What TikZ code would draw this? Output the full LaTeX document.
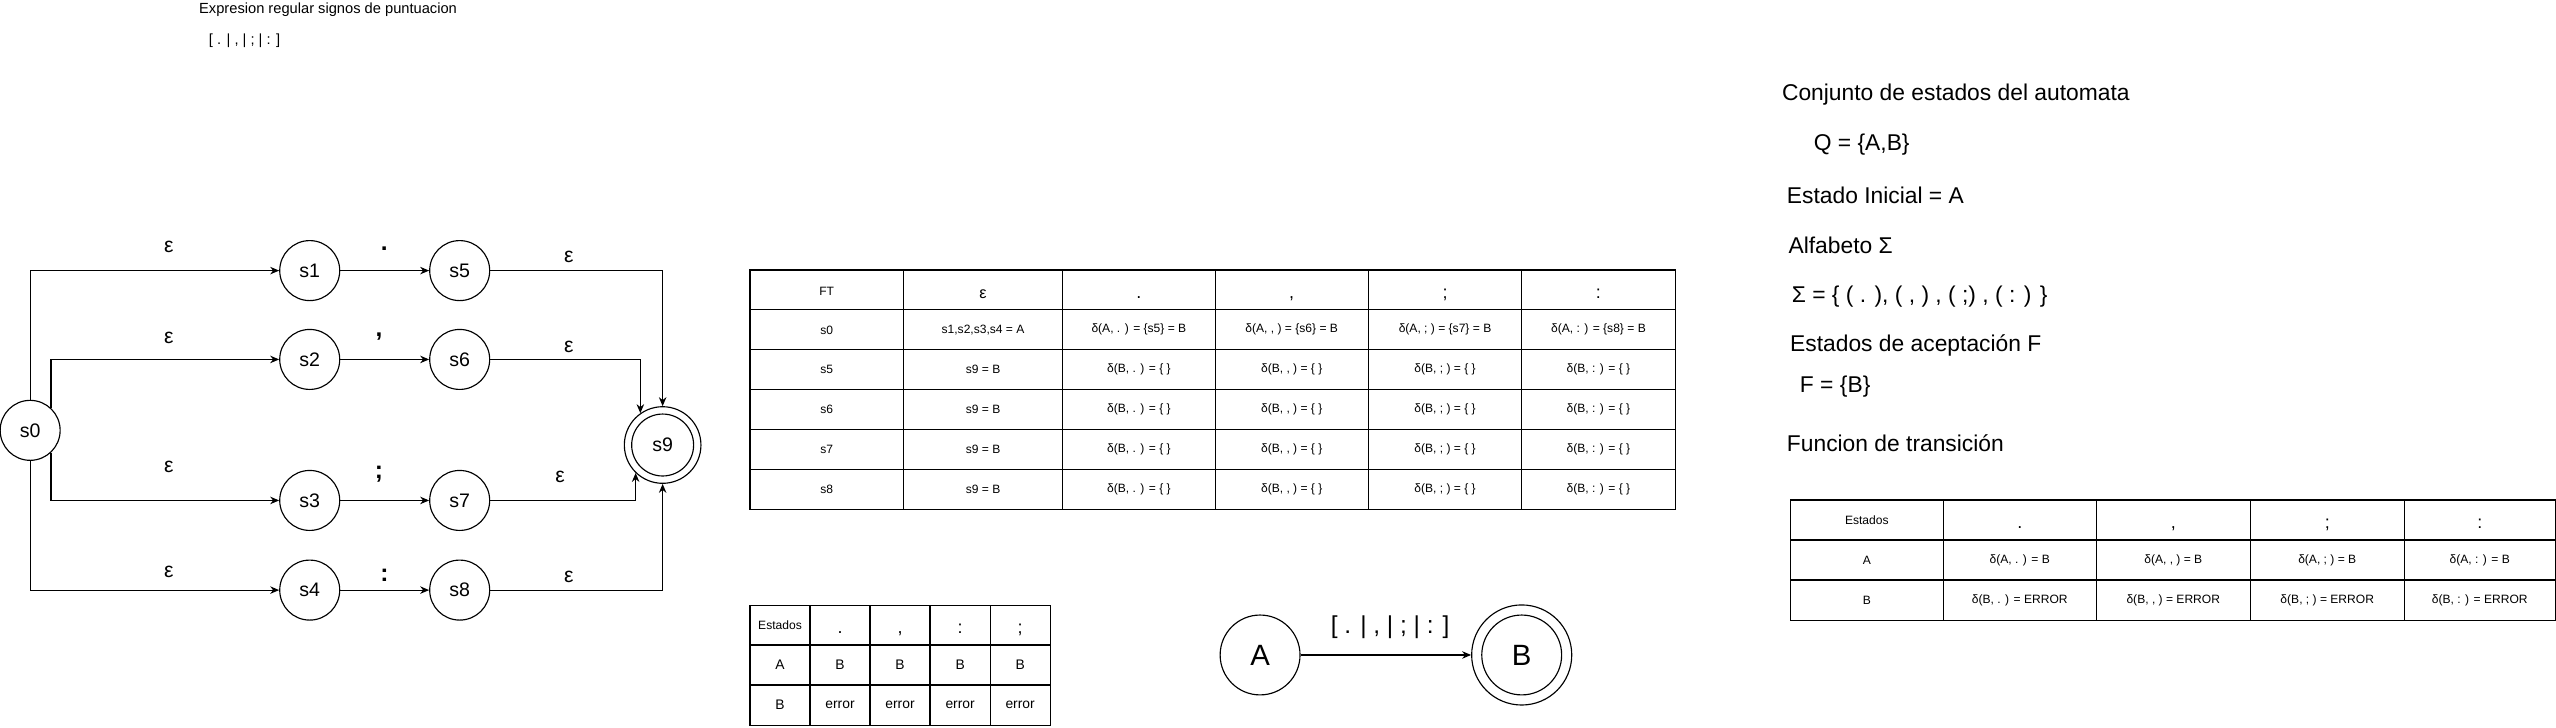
\documentclass[tikz,border=0pt]{standalone}
\usepackage{fontspec}
\setmainfont{Liberation Sans}
\usetikzlibrary{calc}
\usetikzlibrary{shapes.geometric, arrows.meta, positioning}

\tikzset{
  st/.style={circle, draw, line width=0.7pt, minimum size=36.8pt, inner sep=0pt, font=\fontsize{12}{14}\selectfont},
  trans/.style={line width=0.7pt, -{Stealth[length=5.5pt, width=4.6pt]}},
  eps/.style={inner sep=0pt, font=\fontsize{13}{15}\selectfont},
  sym/.style={inner sep=0pt, font=\fontsize{15}{17}\selectfont\bfseries},
  tbl/.style={line width=0.7pt, line cap=rect},
  cell/.style={inner sep=0pt, font=\fontsize{7.4}{9}\selectfont},
  bigcell/.style={inner sep=0pt, font=\fontsize{8.5}{10}\selectfont},
  head/.style={inner sep=0pt, anchor=base, font=\fontsize{11}{13}\selectfont},
  info/.style={anchor=west, inner sep=0pt, font=\fontsize{14}{16}\selectfont},
  note/.style={anchor=west, inner sep=0pt, font=\fontsize{9}{11}\selectfont}
}

\begin{document}
\begin{tikzpicture}[x=1pt, y=-1pt]
\useasboundingbox (0,0) rectangle (1568,446);

% Expresion regular
\node[note] (expr) at (122,6) {Expresion regular signos de puntuacion};
\node[note] (exprx) at (128,25) {[ . | , | ; | : ]};

% AFN, estados s0 ... s9
\node[st] (s0) at (18.5,264) {s0};
\foreach \a/\b/\y in {1/5/166, 2/6/220.5, 3/7/307, 4/8/362}
{
    \node[st] (s\a) at (190,\y) {s\a};
    \node[st] (s\b) at (282,\y) {s\b};
    \draw[trans] (s\a) -- (s\b);
}
\node[st, minimum size=47pt] (s9) at (406.5,273) {s9};
\draw[line width=0.7pt] (s9.center) circle[radius=19pt];

% transiciones epsilon
\draw[trans] (s0.north) |- (s1);
\draw[trans] (s0.47) |- (s2);
\draw[trans] (s0.-47) |- (s3);
\draw[trans] (s0.south) |- (s4);
\draw[trans] (s5) -| (s9);
\draw[trans] (s6) -| (s9.125);
\draw[trans] (s7) -| (s9.226);
\draw[trans] (s8) -| (s9);

% Labels
\foreach \y [count=\i] in {151.7,207,286.5,350.8}
    \node[eps] (ea\i) at (103.6,\y) {ε};
\foreach \x/\y [count=\i] in {349/157.8, 349/212.6, 343.6/292.6, 349/354}
    \node[eps] (eb\i) at (\x,\y) {ε};
\node[sym] (c1) at (235.8,152.7) {.};
\node[sym] (c2) at (232.5,206.3) {,};
\node[sym] (c3) at (232.5,291) {;};
\node[sym] (c4) at (235.8,353) {:};

% Tabla de transicion del AFN
\foreach \x in {460.1,554.2,651.9,745.4,839.4,933.5,1027.6}
    \draw[tbl] (\x,165.6) -- (\x,312.6);
\foreach \y in {165.6,190.1,214.6,239.1,263.6,288.1,312.6}
    \draw[tbl] (460.1,\y) -- (1027.6,\y);

\node[cell] (ft) at (507.15,178.6) {FT};
\node[head, font=\fontsize{10}{12}\selectfont] (fte) at (603.05,183.4) {ε};
\foreach \x/\p [count=\i] in {698.65/{.}, 792.4/{,}, 886.45/{;}, 980.55/{:}}
    \node[head] (fth\i) at (\x,183.4) {\p};

\node[cell] (fs0) at (507.15,202.35) {s0};
\node[cell] (fs0-e) at (603.05,202.35) {s1,s2,s3,s4 = A};
\foreach \x/\p/\s [count=\i] in {698.65/{.}/5, 792.4/{,}/6, 886.45/{;}/7, 980.55/{:}/8}
    \node[cell] (fs0-\i) at (\x,202.35) {δ(A, \p{} ) = \{s\s\} = B};

\foreach \r/\y in {5/226.85, 6/251.35, 7/275.85, 8/300.35}
{
    \node[cell] (f\r) at (507.15,\y) {s\r};
    \node[cell] (f\r-e) at (603.05,\y) {s9 = B};
    \foreach \x/\p [count=\i] in {698.65/{.}, 792.4/{,}, 886.45/{;}, 980.55/{:}}
        \node[cell] (f\r-\i) at (\x,\y) {δ(B, \p{} ) = \{ \}};
}

% Tabla del AFD
\foreach \x in {460.1,496.9,533.7,570.5,607.4,644.2}
    \draw[tbl] (\x,371.2) -- (\x,444.8);
\foreach \y in {371.2,395.7,420.2,444.8}
    \draw[tbl] (460.1,\y) -- (644.2,\y);

\node[cell] (t0) at (478.5,383.45) {Estados};
\node[bigcell] (ta) at (478.5,407.95) {A};
\node[bigcell] (tb) at (478.5,432.5) {B};
\foreach \x/\p [count=\i] in {515.3/{.}, 552.1/{,}, 589/{:}, 625.8/{;}}
{
    \node[head] (th\i) at (\x,388.5) {\p};
    \node[bigcell] (ta\i) at (\x,407.95) {B};
    \node[bigcell] (tb\i) at (\x,432.5) {error};
}

% AFD
\node[st, minimum size=49pt, font=\fontsize{18}{20}\selectfont] (A) at (773,401.8) {A};
\node[st, minimum size=61.4pt, font=\fontsize{18}{20}\selectfont] (B) at (933.5,401.8) {B};
\draw[line width=0.7pt] (B.center) circle[radius=24.5pt];
\draw[trans] (A) -- (B);
\node[inner sep=0pt, font=\fontsize{15}{17}\selectfont] (ab) at (852.8,384.5) {[ . | , | ; | : ]};

% Definicion del automata
\node[info] (conj) at (1093,58.3) {Conjunto de estados del automata};
\node[info] (qset) at (1112.5,89) {Q = \{A,B\}};
\node[info] (ini) at (1096,119.6) {Estado Inicial = A};
\node[info] (alf) at (1097,150.3) {Alfabeto Σ};
\node[info] (sig) at (1099,182) {Σ = \{ ( . ), ( , ) , ( ;) , ( : ) \}};
\node[info] (acep) at (1098,211.7) {Estados de aceptación F};
\node[info] (fset) at (1104,237.2) {F = \{B\}};
\node[info] (func) at (1096,272) {Funcion de transición};

% Tabla de la funcion de transicion
\foreach \x in {1098.2,1192.2,1285.9,1380.5,1474.8,1567.6}
    \draw[tbl] (\x,306.7) -- (\x,380.4);
\foreach \y in {306.7,331.3,355.8,380.4}
    \draw[tbl] (1098.2,\y) -- (1567.6,\y);

\node[cell] (q0) at (1145.2,319) {Estados};
\node[cell] (qa) at (1145.2,343.55) {A};
\node[cell] (qb) at (1145.2,368.1) {B};
\foreach \x/\p [count=\i] in {1239.05/{.}, 1333.2/{,}, 1427.65/{;}, 1521.2/{:}}
{
    \node[head] (qh\i) at (\x,324) {\p};
    \node[cell] (qa\i) at (\x,343.55) {δ(A, \p{} ) = B};
    \node[cell] (qb\i) at (\x,368.1) {δ(B, \p{} ) = ERROR};
}

\end{tikzpicture}
\end{document}
